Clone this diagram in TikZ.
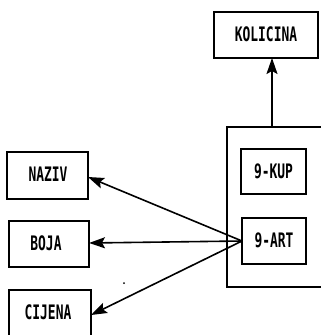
\documentclass[tikz,border=0pt]{standalone}
\usepackage{fontspec}
\newfontfamily\boxfont{DejaVu Sans Mono}[BoldFont={DejaVu Sans Mono Bold}]
\usetikzlibrary{arrows.meta}
\begin{document}
\begin{tikzpicture}[x=1pt,y=-1pt,
  bx/.style={draw,line width=2pt},
  lbl/.style={font=\boxfont\bfseries\fontsize{19}{19}\selectfont,xscale=0.68,yscale=1.05},
  arr/.style={line width=1.6pt,-{Stealth[length=16pt,width=11pt,inset=3pt]}}]
\useasboundingbox (0,0) rectangle (321,335);
\clip (0,0) rectangle (321,335);
\draw[bx] (214,12) rectangle (318,58);
\node[lbl] (kol) at (266,34) {KOLICINA};
\coordinate (kolb) at (272,58);
\draw[bx] (227,127) rectangle (322,287);
\coordinate (outt) at (272,127);
\draw[bx] (241,149) rectangle (306,194);
\node[lbl] (kup) at (273.5,171) {9-KUP};
\draw[bx] (242,218) rectangle (306,264);
\node[lbl] (art) at (274,240) {9-ART};
\coordinate (artl) at (242,241);
\draw[bx] (7,152) rectangle (88,199);
\node[lbl] (naz) at (48,174) {NAZIV};
\coordinate (nazr) at (88,177);
\draw[bx] (9,221) rectangle (89,267);
\node[lbl] (boj) at (46,243) {BOJA};
\coordinate (bojr) at (89,243);
\draw[bx] (9,290) rectangle (91,345);
\node[lbl] (cij) at (48,312) {CIJENA};
\coordinate (cijr) at (91,315);
\draw[arr] (outt) -- (kolb);
\draw[arr] (artl) -- (nazr);
\draw[arr] (artl) -- (bojr);
\draw[arr] (artl) -- (cijr);
\fill (124,283) circle (1pt);
\end{tikzpicture}
\end{document}
